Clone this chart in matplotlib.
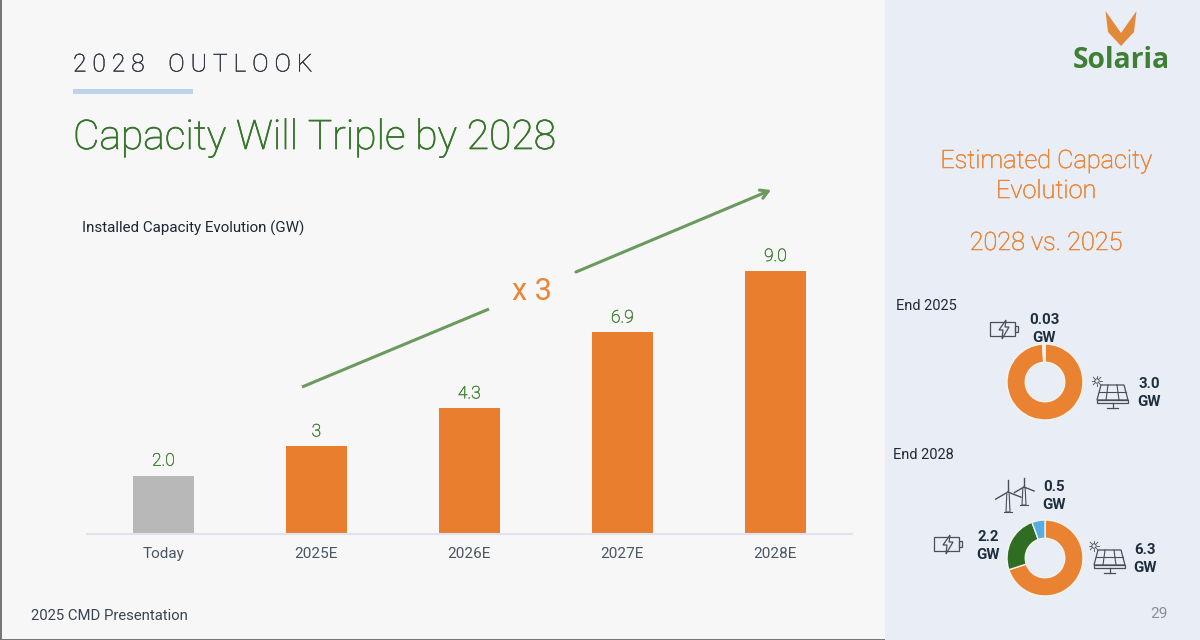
import matplotlib
matplotlib.use("Agg")
import matplotlib.pyplot as plt
import matplotlib.patheffects as pe
from matplotlib.patches import Polygon, Rectangle, Circle

plt.rcParams['font.family'] = ['Roboto', 'DejaVu Sans']

categories = ['Today', '2025E', '2026E', '2027E', '2028E']
capacity = [2.0, 3.0, 4.3, 6.9, 9.0]
capacity_labels = ['2.0', '3', '4.3', '6.9', '9.0']
bar_colors = ['#b8b8b8', '#e97f2e', '#e97f2e', '#e97f2e', '#e97f2e']

mix_2025 = [3.0, 0.03]
mix_2028 = [6.3, 2.2, 0.5]
mix_2025_colors = ['#e98332', '#f3eee2']
mix_2028_colors = ['#e98332', '#2f6e22', '#55ade6']

ORANGE = '#e98536'
GREEN = '#35752a'
ARROW = '#6a9b5c'
DARK = '#1f2d3d'
ICON = '#4a4f55'
W, H = 1200, 640

def thick(color, w=0.4):
    return [pe.withStroke(linewidth=w, foreground=color)]

fig = plt.figure(figsize=(12, 6.4), dpi=100, facecolor='#f7f7f8')

# Page layer in pixel coordinates
bg = fig.add_axes([0, 0, 1, 1], zorder=0)
bg.set_xlim(0, W); bg.set_ylim(H, 0); bg.axis('off')
bg.add_patch(Rectangle((885, 0), 315, 640, color='#e9eef6', lw=0))
bg.add_patch(Rectangle((0, 0), 1.5, 640, color='#777777', lw=0))
bg.add_patch(Rectangle((0, 638.8), 885, 1.2, color='#777777', lw=0))
bg.add_patch(Rectangle((73, 89), 120, 5, color='#bcd3ec', lw=0))

bg.text(73, 64.5, '2 0 2 8    O U T L O O K', fontsize=17.75, color='#2c3440', fontweight='light', va='center', ha='left',
        path_effects=thick('#2c3440', 0.3))
bg.text(73, 137.5, 'Capacity Will Triple by 2028', fontsize=29.35, color=GREEN, fontweight='light', va='center', ha='left',
        path_effects=thick(GREEN, 0.5))
bg.text(82, 228, 'Installed Capacity Evolution (GW)', fontsize=10.9, color='#1d2733', va='center', ha='left')
bg.text(31, 616, '2025 CMD Presentation', fontsize=10.75, color='#3a4450', va='center', ha='left')
bg.text(1159, 614, '29', fontsize=11, color='#8a8f96', va='center', ha='center')

# Growth arrow
bg.plot([302, 489], [387, 309], color=ARROW, lw=2.2, solid_capstyle='butt')
bg.annotate('', xy=(771, 190), xytext=(576, 272),
            arrowprops=dict(arrowstyle='->,head_length=0.55,head_width=0.32', color=ARROW, lw=2.2,
                            shrinkA=0, shrinkB=0))
bg.text(532, 291, 'x 3', fontsize=22, color=ORANGE, va='center', ha='center')

# Right panel text
for y, s in [(161, 'Estimated Capacity'), (191, 'Evolution'), (243, '2028 vs. 2025')]:
    bg.text(1046, y, s, fontsize=18.2, color=ORANGE, fontweight='light', va='center', ha='center',
            path_effects=thick(ORANGE, 0.4))
bg.text(896, 306, 'End 2025', fontsize=10.5, color='#1f2a36', va='center', ha='left')
bg.text(893, 455, 'End 2028', fontsize=10.5, color='#1f2a36', va='center', ha='left')

def mix_label(x, y, value):
    bg.text(x, y, f'{value}\nGW', fontsize=10.8, fontweight='bold', color=DARK, va='center', ha='center', linespacing=1.45)

mix_label(1044, 329, '0.03')
mix_label(1149, 393, '3.0')
mix_label(1054, 496, '0.5')
mix_label(988, 546, '2.2')
mix_label(1145, 559, '6.3')

# Logo
bg.add_patch(Polygon([(1105.5, 11), (1121, 33), (1121, 46), (1108, 32)], color='#e2893a', lw=0))
bg.add_patch(Polygon([(1136.5, 11), (1121, 33), (1121, 46), (1134, 32)], color='#e2893a', lw=0))
bg.text(1121, 61, 'Solaria', fontsize=20.3, fontweight='bold', color='#3f7f33', va='center', ha='center', family='Open Sans')

bg_panel = '#e9eef6'

# Icons
def battery(x, y):
    bg.add_patch(Rectangle((x, y), 25, 14, fill=False, ec=ICON, lw=0.9))
    bg.add_patch(Rectangle((x + 25, y + 4), 3, 6, fill=False, ec=ICON, lw=0.9))
    bg.add_patch(Polygon([(x + 16, y - 2), (x + 9, y + 8), (x + 13, y + 8), (x + 12, y + 17),
                          (x + 19, y + 5), (x + 15, y + 5)], fc=bg_panel, ec=ICON, lw=0.9, zorder=3))

def solar(x, y):
    bg.add_patch(Polygon([(x + 4, y), (x + 27, y), (x + 31, y + 15), (x, y + 15)], fill=False, ec=ICON, lw=0.9))
    bg.add_patch(Rectangle((x, y + 15), 31, 3, fill=False, ec=ICON, lw=0.9))
    bg.plot([x + 2, x + 29], [y + 7, y + 7], color=ICON, lw=0.8)
    bg.plot([x + 11, x + 9], [y, y + 15], color=ICON, lw=0.8)
    bg.plot([x + 20, x + 22], [y, y + 15], color=ICON, lw=0.8)
    bg.plot([x + 15.5, x + 15.5], [y + 18, y + 23], color=ICON, lw=0.9)
    bg.plot([x + 10, x + 21], [y + 23, y + 23], color=ICON, lw=0.9)
    sx, sy = x, y - 4
    bg.add_patch(Circle((sx, sy), 2.2, fill=False, ec=ICON, lw=0.7))
    for dx, dy in [(4, 0), (-4, 0), (0, 4), (0, -4), (3, 3), (-3, 3), (3, -3), (-3, -3)]:
        bg.plot([sx + dx * 0.8, sx + dx * 1.25], [sy + dy * 0.8, sy + dy * 1.25], color=ICON, lw=0.6)

def turbine(x, top, bottom, r):
    bg.plot([x - 1.2, x - 2, x + 2, x + 1.2], [top + r * 0.15, bottom, bottom, top + r * 0.15], color=ICON, lw=0.8)
    bg.plot([x - 4, x + 4], [bottom, bottom], color=ICON, lw=0.8)
    bg.plot([x, x], [top, top - r * 0.95], color=ICON, lw=1.0)
    bg.plot([x, x + r * 1.0], [top, top + r * 0.4], color=ICON, lw=1.0)
    bg.plot([x, x - r * 0.95], [top, top + r * 0.55], color=ICON, lw=1.0)

battery(990, 322)
battery(934, 537)
solar(1097, 385)
solar(1094, 550)
turbine(1008, 492, 512, 13)
turbine(1024, 487, 505, 10)

# Bars
def px_axes(l, t, r, b, **kw):
    return fig.add_axes([l / W, 1 - b / H, (r - l) / W, (b - t) / H], **kw)

ax = px_axes(87, 271, 852, 534, zorder=2)
ax.patch.set_alpha(0)
xs = list(range(len(categories)))
ax.bar(xs, capacity, width=0.398, color=bar_colors)
ax.set_xlim(-0.499, 4.501)
ax.set_ylim(0, 9)
ax.set_xticks(xs, categories, fontsize=11, color='#4a5563')
ax.tick_params(axis='x', length=0, pad=9.5)
ax.set_yticks([])
for s in ['top', 'left', 'right']:
    ax.spines[s].set_visible(False)
ax.spines['bottom'].set_color('#dfe3ee')
ax.spines['bottom'].set_linewidth(1.5)
for x, v, lab in zip(xs, capacity, capacity_labels):
    ax.annotate(lab, (x, v), xytext=(0, 5), textcoords='offset points', ha='center', va='bottom',
                fontsize=12.5, color='#4c8a3f', fontweight='light', annotation_clip=False,
                path_effects=thick('#3f7f33', 0.35))

# Donuts
def donut(cx, cy, values, colors):
    a = px_axes(cx - 38, cy - 38, cx + 38, cy + 38, zorder=3)
    a.pie(values, colors=colors, startangle=90, counterclock=False, radius=1,
          wedgeprops=dict(width=0.48, edgecolor='#f5f3ee', linewidth=1.0))
    a.set_xlim(-1, 1); a.set_ylim(-1, 1)

donut(1045, 382, mix_2025, mix_2025_colors)
donut(1045, 558, mix_2028, mix_2028_colors)

fig.savefig('out.png', dpi=100, facecolor=fig.get_facecolor())
